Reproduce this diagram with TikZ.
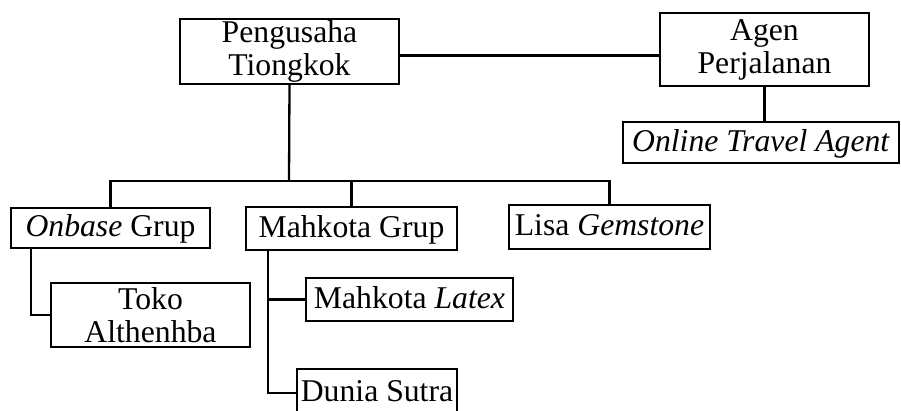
\documentclass[tikz,border=0pt]{standalone}
\usepackage{fontspec}
\setmainfont{Liberation Serif}
\usepackage{tikz}

\begin{document}
\begin{tikzpicture}[x=1pt, y=-1pt,
	unit/.style={draw, line width=2.8pt, inner sep=0pt, outer sep=0pt, align=center,
		font=\fontsize{31.7}{33}\selectfont},
	solo/.style={unit, text height=23pt, text depth=6pt},
	duo/.style={unit, execute at begin node={\rule{0pt}{27pt}}},
	link/.style={line width=2.3pt}]
	\useasboundingbox (0,0) rectangle (901,410);

	\node [duo, minimum width=219, minimum height=65] (peng) at (289.5,51.5) {Pengusaha\\Tiongkok};
	\node [duo, minimum width=209, minimum height=73] (agen) at (764.5,49.5) {Agen\\Perjalanan};
	\node [solo, minimum width=276, minimum height=41] (ota) at (761,142.5) {\textit{Online Travel Agent}};

	\node [solo, minimum width=199, minimum height=40] (onb) at (110.5,228) {\textit{Onbase} Grup};
	\node [solo, minimum width=211, minimum height=43] (mgrup) at (351.5,228.5) {Mahkota Grup};
	\node [solo, minimum width=201, minimum height=44] (lisa) at (609.5,227) {Lisa \textit{Gemstone}};

	\node [duo, minimum width=199, minimum height=64] (toko) at (150.5,315) {Toko\\Althenhba};
	\node [solo, minimum width=207, minimum height=43] (mlatex) at (409.5,299.5) {Mahkota \textit{Latex}};
	\node [solo, minimum width=160, minimum height=48] (dunia) at (377,393) {Dunia Sutra};

	\coordinate (bus) at (289,181);

	\draw [link] ([yshift=-4pt]peng.east) -- ([yshift=-4pt]peng.east -| agen.west);
	\draw [link] (agen.south) -- (agen.south |- ota.north);

	\draw [link] (peng.south) -- (bus);
	\draw [link] (onb.north) |- (bus) -| (lisa.north);
	\draw [link] (mgrup.north) -- (mgrup.north |- bus);

	\draw [link] ([xshift=20pt]onb.south west) |- (toko.west);
	\draw [link] ([xshift=22pt]mgrup.south west) |- (mlatex.west);
	\draw [link] ([xshift=22pt]mgrup.south west) |- (dunia.west);
\end{tikzpicture}
\end{document}
